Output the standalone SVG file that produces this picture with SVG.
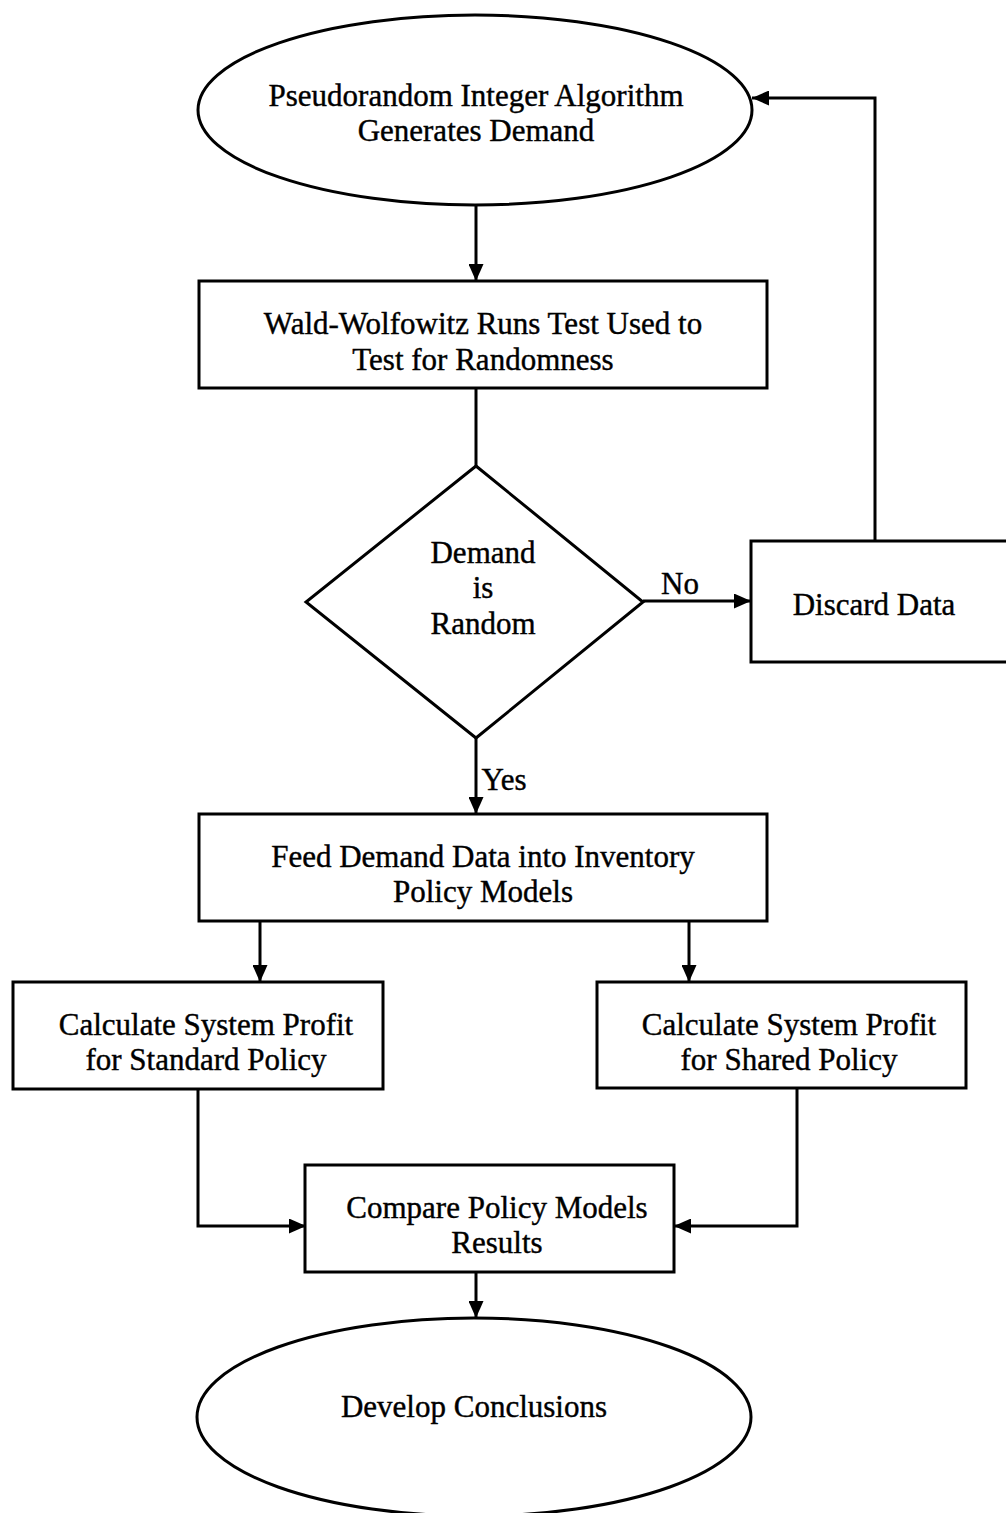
<svg xmlns="http://www.w3.org/2000/svg" width="1006" height="1513" viewBox="0 0 1006 1513">
  <style>
    .shape { fill: #fff; stroke: #000; stroke-width: 3; }
    .edge { fill: none; stroke: #000; stroke-width: 3; }
    .label { font-family: "Liberation Serif", "Times New Roman", serif; font-size: 31px; fill: #000; stroke: #000; stroke-width: 0.4; text-anchor: middle; }
  </style>
  <defs>
    <marker id="arrow" viewBox="0 0 17 15" refX="17" refY="7.5" markerWidth="17" markerHeight="15" markerUnits="userSpaceOnUse" orient="auto">
      <path d="M0,0 L17,7.5 L0,15 Z" fill="#000"/>
    </marker>
  </defs>
  <rect width="1006" height="1513" fill="#fff"/>

  <g id="connectors">
    <path class="edge" d="M476,205 L476,281" marker-end="url(#arrow)"/>
    <path class="edge" d="M476,388 L476,466"/>
    <path class="edge" d="M643,601 L751,601" marker-end="url(#arrow)"/>
    <path class="edge" d="M875,541 L875,98 L752,98" marker-end="url(#arrow)"/>
    <path class="edge" d="M476,738 L476,814" marker-end="url(#arrow)"/>
    <path class="edge" d="M260,921 L260,982" marker-end="url(#arrow)"/>
    <path class="edge" d="M689,921 L689,982" marker-end="url(#arrow)"/>
    <path class="edge" d="M198,1089 L198,1226 L306,1226" marker-end="url(#arrow)"/>
    <path class="edge" d="M797,1088 L797,1226 L674,1226" marker-end="url(#arrow)"/>
    <path class="edge" d="M476,1272 L476,1318" marker-end="url(#arrow)"/>
    <text class="label" x="680" y="594">No</text>
    <text class="label" x="504" y="790">Yes</text>
  </g>

  <g id="generate">
    <ellipse class="shape" cx="475" cy="110" rx="277" ry="95"/>
    <text class="label" x="476" y="106">Pseudorandom Integer Algorithm</text>
    <text class="label" x="476" y="141">Generates Demand</text>
  </g>

  <g id="runs-test">
    <rect class="shape" x="199" y="281" width="568" height="107"/>
    <text class="label" x="483" y="334">Wald-Wolfowitz Runs Test Used to</text>
    <text class="label" x="483" y="370">Test for Randomness</text>
  </g>

  <g id="decision">
    <polygon class="shape" points="476,466 643,602 476,738 306,602"/>
    <text class="label" x="483" y="563">Demand</text>
    <text class="label" x="483" y="598">is</text>
    <text class="label" x="483" y="634">Random</text>
  </g>

  <g id="discard">
    <rect class="shape" x="751" y="541" width="260" height="121"/>
    <text class="label" x="874" y="615">Discard Data</text>
  </g>

  <g id="feed">
    <rect class="shape" x="199" y="814" width="568" height="107"/>
    <text class="label" x="483" y="867">Feed Demand Data into Inventory</text>
    <text class="label" x="483" y="902">Policy Models</text>
  </g>

  <g id="standard">
    <rect class="shape" x="13" y="982" width="370" height="107"/>
    <text class="label" x="206" y="1035">Calculate System Profit</text>
    <text class="label" x="206" y="1070">for Standard Policy</text>
  </g>

  <g id="shared">
    <rect class="shape" x="597" y="982" width="369" height="106"/>
    <text class="label" x="789" y="1035">Calculate System Profit</text>
    <text class="label" x="789" y="1070">for Shared Policy</text>
  </g>

  <g id="compare">
    <rect class="shape" x="305" y="1165" width="369" height="107"/>
    <text class="label" x="497" y="1218">Compare Policy Models</text>
    <text class="label" x="497" y="1253">Results</text>
  </g>

  <g id="conclusions">
    <ellipse class="shape" cx="474" cy="1417" rx="277" ry="99"/>
    <text class="label" x="474" y="1417">Develop Conclusions</text>
  </g>
</svg>
